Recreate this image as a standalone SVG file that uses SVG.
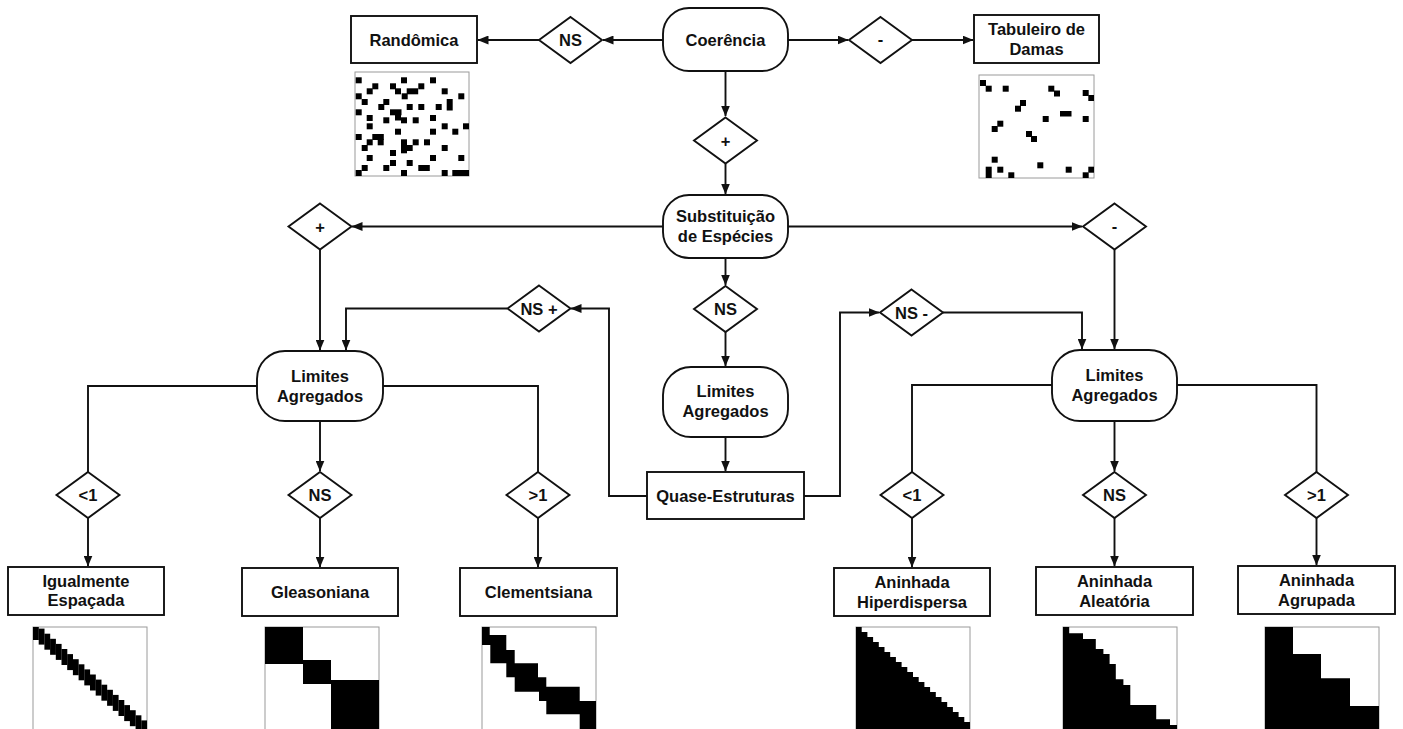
<svg xmlns="http://www.w3.org/2000/svg" width="1403" height="729" viewBox="0 0 1403 729">
<style>
.ln{fill:none;stroke:#111;stroke-width:1.9}
.sh{fill:#fff;stroke:#111;stroke-width:1.9}
.t{font-family:"Liberation Sans",Arial,sans-serif;font-weight:bold;font-size:16.5px;fill:#111;text-anchor:middle;dominant-baseline:central}
.fr{fill:#fff;stroke:#9a9a9a;stroke-width:1}
.bk{fill:#000}
</style>
<defs>
<marker id="ah" markerWidth="11" markerHeight="9" refX="10.5" refY="4.5" orient="auto" markerUnits="userSpaceOnUse">
<path d="M0,0 L11,4.5 L0,9 Z" fill="#111"/>
</marker>
<polygon id="dia" points="0,-23 31.5,0 0,23 -31.5,0"/>
</defs>
<rect width="1403" height="729" fill="#fff"/>

<g id="connectors">
<path class="ln" d="M663,40 H603" marker-end="url(#ah)"/>
<path class="ln" d="M539,40 H478" marker-end="url(#ah)"/>
<path class="ln" d="M788,40 H848" marker-end="url(#ah)"/>
<path class="ln" d="M912,40 H973" marker-end="url(#ah)"/>
<path class="ln" d="M725.5,71 V116" marker-end="url(#ah)"/>
<path class="ln" d="M725.5,164 V194" marker-end="url(#ah)"/>
<path class="ln" d="M663,226.5 H352" marker-end="url(#ah)"/>
<path class="ln" d="M788,226.5 H1082" marker-end="url(#ah)"/>
<path class="ln" d="M725.5,258 V285" marker-end="url(#ah)"/>
<path class="ln" d="M725.5,332 V366" marker-end="url(#ah)"/>
<path class="ln" d="M725.5,437 V471" marker-end="url(#ah)"/>
<path class="ln" d="M647,496 H609 V308.5 H571" marker-end="url(#ah)"/>
<path class="ln" d="M507,308.5 H346 V350" marker-end="url(#ah)"/>
<path class="ln" d="M320,250 V350" marker-end="url(#ah)"/>
<path class="ln" d="M804,496 H840 V312.5 H879" marker-end="url(#ah)"/>
<path class="ln" d="M943,312.5 H1082 V349" marker-end="url(#ah)"/>
<path class="ln" d="M1114.5,250 V349" marker-end="url(#ah)"/>
<path class="ln" d="M257,386 H88 V472"/>
<path class="ln" d="M320,421 V471" marker-end="url(#ah)"/>
<path class="ln" d="M383,386 H538 V472"/>
<path class="ln" d="M88,518 V566" marker-end="url(#ah)"/>
<path class="ln" d="M320,518 V567" marker-end="url(#ah)"/>
<path class="ln" d="M538,518 V567" marker-end="url(#ah)"/>
<path class="ln" d="M1052,385 H912 V472"/>
<path class="ln" d="M1114.5,421 V471" marker-end="url(#ah)"/>
<path class="ln" d="M1177,385 H1316.5 V472"/>
<path class="ln" d="M912,518 V567" marker-end="url(#ah)"/>
<path class="ln" d="M1114.5,518 V566" marker-end="url(#ah)"/>
<path class="ln" d="M1316.5,518 V565" marker-end="url(#ah)"/>
</g>

<g id="coerencia">
<rect class="sh" x="663" y="8" width="125" height="63" rx="26" ry="26"/>
<text class="t" x="725.5" y="40">Coerência</text>
</g>
<g id="d-ns-top">
<use href="#dia" class="sh" x="570.5" y="40"/>
<text class="t" x="570.5" y="40">NS</text>
</g>
<g id="randomica">
<rect class="sh" x="351" y="16" width="126" height="47"/>
<text class="t" x="414" y="40">Randômica</text>
</g>
<g id="d-minus-top">
<use href="#dia" class="sh" x="880.5" y="40"/>
<text class="t" x="880.5" y="39">-</text>
</g>
<g id="tabuleiro">
<rect class="sh" x="974" y="15" width="125" height="48"/>
<text class="t" x="1036.5" y="29">Tabuleiro de</text>
<text class="t" x="1036.5" y="49">Damas</text>
</g>

<g id="m-random">
<rect class="fr" x="355" y="72" width="114" height="104"/>
<g class="bk">
<rect x="355.7" y="77.3" width="6" height="6"/><rect x="401" y="77.3" width="6" height="6"/><rect x="430" y="77.3" width="6" height="6"/>
<rect x="372.3" y="83.3" width="6" height="6"/><rect x="390" y="83.3" width="6" height="6"/><rect x="418.3" y="83.3" width="6" height="6"/>
<rect x="366.7" y="88.3" width="6" height="6"/><rect x="395" y="88.3" width="6" height="6"/><rect x="406.7" y="88.3" width="11.5" height="6"/><rect x="441.7" y="88.3" width="6" height="6"/>
<rect x="355.7" y="93.3" width="6" height="6"/><rect x="401.7" y="93.3" width="6" height="6"/><rect x="458.3" y="93.3" width="6" height="6"/>
<rect x="361.7" y="99" width="6" height="6"/><rect x="383.3" y="99" width="6" height="6"/><rect x="446.7" y="99" width="6" height="11.5"/>
<rect x="378.3" y="104" width="6" height="6"/><rect x="406.7" y="104" width="6" height="6"/><rect x="418.3" y="104" width="6" height="6"/><rect x="435.7" y="104" width="6" height="6"/>
<rect x="355.7" y="109.3" width="6" height="6"/><rect x="390" y="109.3" width="11.5" height="6"/><rect x="395" y="114" width="6" height="6.5"/>
<rect x="366.7" y="115" width="6" height="6"/><rect x="383.3" y="117.3" width="6" height="6"/><rect x="401" y="117.3" width="6" height="6"/><rect x="412.7" y="117.3" width="6" height="6"/><rect x="430" y="115" width="6" height="6"/>
<rect x="366.7" y="123.3" width="6" height="6"/><rect x="441.7" y="123.3" width="6" height="6"/><rect x="463" y="123.3" width="6" height="6"/>
<rect x="395" y="128.7" width="6" height="6"/><rect x="430" y="128.7" width="6" height="6"/><rect x="452.3" y="128.7" width="6" height="6"/>
<rect x="355.7" y="134" width="6" height="6"/><rect x="372.3" y="134" width="11.5" height="6"/><rect x="366.7" y="139.3" width="6" height="6"/><rect x="377.7" y="139.3" width="6" height="6"/>
<rect x="401" y="139.3" width="6" height="14"/><rect x="406.7" y="145" width="6" height="6"/><rect x="412.7" y="139.3" width="6" height="6"/><rect x="424" y="139.3" width="6" height="6"/>
<rect x="361.7" y="145" width="6" height="6"/><rect x="441.7" y="145" width="6" height="6"/>
<rect x="390" y="150" width="6" height="6"/>
<rect x="366.7" y="155" width="6" height="6"/><rect x="430" y="155" width="6" height="6"/><rect x="458.3" y="155" width="6" height="6"/>
<rect x="390" y="160" width="6" height="6"/><rect x="406.7" y="160" width="6" height="6"/>
<rect x="361.7" y="165" width="6" height="6"/><rect x="383.3" y="165" width="6" height="6"/><rect x="418.3" y="165" width="11.5" height="6"/>
<rect x="355.7" y="170" width="6" height="6"/><rect x="401" y="170" width="6" height="6"/><rect x="441.7" y="170" width="6" height="6"/><rect x="452.3" y="170" width="16.7" height="6"/>
</g>
</g>

<g id="m-checker">
<rect class="fr" x="979" y="75" width="115" height="103"/>
<g class="bk">
<rect x="980" y="80" width="6" height="6"/><rect x="985.7" y="85.7" width="6" height="6"/>
<rect x="1002.7" y="85.7" width="6" height="6"/>
<rect x="1048.3" y="85.7" width="6" height="6"/><rect x="1054" y="90.5" width="6" height="6"/>
<rect x="1082.7" y="90" width="6" height="6"/><rect x="1088.3" y="95" width="5.7" height="6"/>
<rect x="1020" y="100" width="6" height="6"/><rect x="1015" y="105.7" width="6" height="6"/>
<rect x="1060" y="111" width="11.5" height="5.5"/>
<rect x="1042.7" y="116" width="6" height="6"/><rect x="1082.7" y="116" width="6" height="6"/>
<rect x="997.3" y="120.7" width="6" height="6"/><rect x="991.7" y="126" width="6" height="6"/>
<rect x="1026" y="131" width="6" height="6"/><rect x="1031" y="136" width="6" height="6"/>
<rect x="991.7" y="156.7" width="6" height="6"/>
<rect x="1037.3" y="162.3" width="6" height="6"/>
<rect x="985.7" y="166.7" width="6" height="11.3"/><rect x="997.3" y="166.7" width="6" height="6"/>
<rect x="1008.3" y="172.3" width="6" height="5.7"/>
<rect x="1065.7" y="166.7" width="6" height="6"/>
<rect x="1088.3" y="166.7" width="5.7" height="6"/><rect x="1082.7" y="172.3" width="6" height="5.7"/>
</g>
</g>

<g id="d-plus-top">
<use href="#dia" class="sh" x="725.5" y="140.5"/>
<text class="t" x="725.5" y="140.5">+</text>
</g>
<g id="substituicao">
<rect class="sh" x="663" y="195" width="125" height="63" rx="26" ry="26"/>
<text class="t" x="725.5" y="216">Substituição</text>
<text class="t" x="725.5" y="236">de Espécies</text>
</g>
<g id="d-plus-left">
<use href="#dia" class="sh" x="320" y="226.5"/>
<text class="t" x="320" y="226.5">+</text>
</g>
<g id="d-minus-right">
<use href="#dia" class="sh" x="1114.5" y="226.5"/>
<text class="t" x="1114.5" y="225.5">-</text>
</g>
<g id="d-ns-mid">
<use href="#dia" class="sh" x="725.5" y="309"/>
<text class="t" x="725.5" y="309">NS</text>
</g>
<g id="d-ns-plus">
<use href="#dia" class="sh" x="539" y="308.5"/>
<text class="t" x="539" y="308.5">NS +</text>
</g>
<g id="d-ns-minus">
<use href="#dia" class="sh" x="911.5" y="312.5"/>
<text class="t" x="911.5" y="312.5">NS -</text>
</g>

<g id="limites-left">
<rect class="sh" x="257" y="351" width="126" height="70" rx="28" ry="28"/>
<text class="t" x="320" y="376">Limites</text>
<text class="t" x="320" y="396">Agregados</text>
</g>
<g id="limites-mid">
<rect class="sh" x="663" y="367" width="125" height="70" rx="28" ry="28"/>
<text class="t" x="725.5" y="391">Limites</text>
<text class="t" x="725.5" y="411">Agregados</text>
</g>
<g id="limites-right">
<rect class="sh" x="1052" y="350" width="125" height="71" rx="28" ry="28"/>
<text class="t" x="1114.5" y="375">Limites</text>
<text class="t" x="1114.5" y="395">Agregados</text>
</g>
<g id="quase">
<rect class="sh" x="647" y="472" width="157" height="47"/>
<text class="t" x="725.5" y="496">Quase-Estruturas</text>
</g>

<g id="d-lt1-left">
<use href="#dia" class="sh" x="88" y="495"/>
<text class="t" x="88" y="495">&lt;1</text>
</g>
<g id="d-ns-left">
<use href="#dia" class="sh" x="320" y="495"/>
<text class="t" x="320" y="495">NS</text>
</g>
<g id="d-gt1-left">
<use href="#dia" class="sh" x="538" y="495"/>
<text class="t" x="538" y="495">&gt;1</text>
</g>
<g id="d-lt1-right">
<use href="#dia" class="sh" x="912" y="495"/>
<text class="t" x="912" y="495">&lt;1</text>
</g>
<g id="d-ns-right">
<use href="#dia" class="sh" x="1114.5" y="495"/>
<text class="t" x="1114.5" y="495">NS</text>
</g>
<g id="d-gt1-right">
<use href="#dia" class="sh" x="1316.5" y="495"/>
<text class="t" x="1316.5" y="495">&gt;1</text>
</g>

<g id="igualmente">
<rect class="sh" x="8" y="567" width="156" height="48"/>
<text class="t" x="86" y="581">Igualmente</text>
<text class="t" x="86" y="600">Espaçada</text>
</g>
<g id="gleasoniana">
<rect class="sh" x="242" y="568" width="156" height="48"/>
<text class="t" x="320" y="592">Gleasoniana</text>
</g>
<g id="clementsiana">
<rect class="sh" x="460" y="568" width="157" height="48"/>
<text class="t" x="538.5" y="592">Clementsiana</text>
</g>
<g id="hiperdispersa">
<rect class="sh" x="834" y="568" width="156" height="48"/>
<text class="t" x="912" y="582">Aninhada</text>
<text class="t" x="912" y="602">Hiperdispersa</text>
</g>
<g id="aleatoria">
<rect class="sh" x="1036" y="567" width="157" height="48"/>
<text class="t" x="1114.5" y="581">Aninhada</text>
<text class="t" x="1114.5" y="601">Aleatória</text>
</g>
<g id="agrupada">
<rect class="sh" x="1238" y="566" width="157" height="48"/>
<text class="t" x="1316.5" y="580">Aninhada</text>
<text class="t" x="1316.5" y="600">Agrupada</text>
</g>

<g id="m-igualmente">
<rect class="fr" x="33" y="627" width="114" height="104"/>
<g class="bk">
<rect x="33" y="627" width="5.8" height="13"/>
<rect x="38.7" y="628.6" width="5.8" height="16"/>
<rect x="44.4" y="633.7" width="5.8" height="16"/>
<rect x="50.1" y="638.8" width="5.8" height="16"/>
<rect x="55.8" y="643.9" width="5.8" height="16"/>
<rect x="61.5" y="649" width="5.8" height="16"/>
<rect x="67.2" y="654.1" width="5.8" height="16"/>
<rect x="72.9" y="659.2" width="5.8" height="16"/>
<rect x="78.6" y="664.3" width="5.8" height="16"/>
<rect x="84.3" y="669.4" width="5.8" height="16"/>
<rect x="90" y="674.5" width="5.8" height="16"/>
<rect x="95.7" y="679.6" width="5.8" height="16"/>
<rect x="101.4" y="684.7" width="5.8" height="16"/>
<rect x="107.1" y="689.8" width="5.8" height="16"/>
<rect x="112.8" y="694.9" width="5.8" height="16"/>
<rect x="118.5" y="700" width="5.8" height="16"/>
<rect x="124.2" y="705.1" width="5.8" height="16"/>
<rect x="129.9" y="710.2" width="5.8" height="16"/>
<rect x="135.6" y="715.3" width="5.8" height="13.7"/>
<rect x="141.3" y="720.4" width="5.7" height="8.6"/>
</g>
</g>
<g id="m-gleasoniana">
<rect class="fr" x="265" y="627" width="114" height="104"/>
<g class="bk">
<rect x="265" y="627" width="38" height="37"/>
<rect x="303" y="660" width="28" height="24"/>
<rect x="331" y="680" width="48" height="49"/>
</g>
</g>
<g id="m-clementsiana">
<rect class="fr" x="482" y="627" width="114" height="104"/>
<path class="bk" d="M482,627 H489.7 V635 H506.3 V650 H514.7 V663.3 H538 V677.3 H546.3 V686.7 H579.7 V701 H596 V729 H579.7 V714.3 H546.3 V701 H539 V691.7 H514.7 V677.3 H506.3 V663.3 H490.3 V645 H482 Z"/>
</g>
<g id="m-hiperdispersa">
<rect class="fr" x="856" y="627" width="114" height="104"/>
<path class="bk" d="M856,627 H861.7 V632 H867.4 V637 H873.1 V642 H878.8 V647 H884.5 V652 H890.2 V657 H895.9 V662 H901.6 V667 H907.3 V672 H913 V677 H918.7 V682 H924.4 V687 H930.1 V692 H935.8 V697 H941.5 V702 H947.2 V707 H952.9 V712 H958.6 V717 H964.3 V722 H970 V729 H856 Z"/>
</g>
<g id="m-aleatoria">
<rect class="fr" x="1063" y="627" width="114" height="104"/>
<path class="bk" d="M1063,627 H1069.2 V633.3 H1083 V639 H1095.8 V649 H1103.4 V654 H1109.6 V664 H1115.8 V679.3 H1123.4 V685 H1130.3 V705 H1156.2 V719.3 H1170 V725 H1177 V729 H1063 Z"/>
</g>
<g id="m-agrupada">
<rect class="fr" x="1265" y="627" width="114" height="104"/>
<path class="bk" d="M1265,627 H1293 V654 H1321 V678.3 H1350 V706 H1379 V729 H1265 Z"/>
</g>
</svg>
